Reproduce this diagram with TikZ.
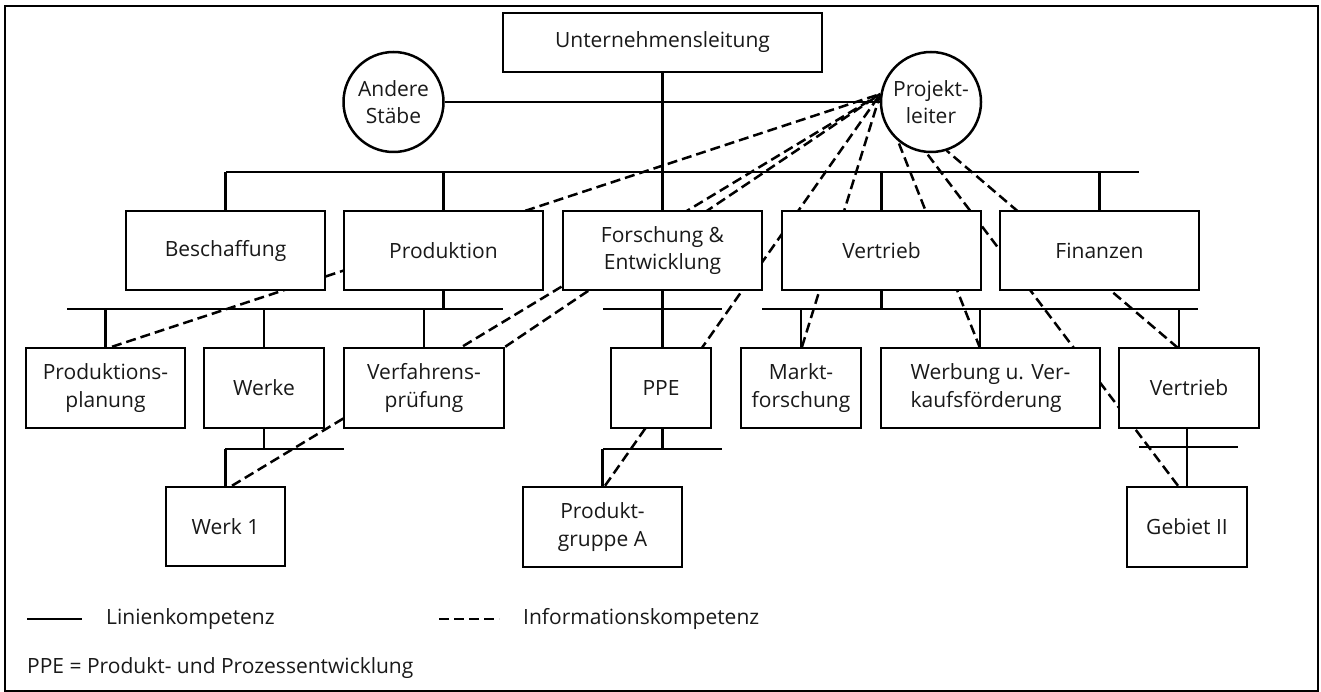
\documentclass[tikz,border=0pt]{standalone}
\usepackage{fontspec}
\setmainfont{Open Sans}
\usetikzlibrary{calc}
\pgfdeclarelayer{background}
\pgfsetlayers{background,main}
\begin{document}
\begin{tikzpicture}[x=1pt,y=-1pt,
  txt/.style={font=\fontsize{21}{27.5}\selectfont, text=black!90},
  box/.style={txt, draw, line width=2.5pt, fill=white, inner sep=0pt, align=center},
  circ/.style={txt, draw, circle, line width=2.5pt, fill=white, inner sep=0pt, minimum size=100pt, align=center},
  ln/.style={line width=2.5pt},
  info/.style={line width=2.5pt, dash pattern=on 10pt off 5pt},
  legtext/.style={txt, anchor=west, inner sep=0pt},
]
\useasboundingbox (0,0) rectangle (1321,692);
\draw[line width=2.2pt] (5,6) rectangle (1318,691);

% nodes
\node[box, minimum width=319pt, minimum height=59pt] (ul) at (662.5,42.5) {Unternehmensleitung};
\node[circ] (andere) at (393.5,102) {Andere\\Stäbe};
\node[circ] (pl) at (931,102) {Projekt-\\leiter};

\node[box, minimum width=199pt, minimum height=79pt] (besch) at (225.5,250.5) {Beschaffung};
\node[box, minimum width=199pt, minimum height=79pt] (prod) at (443.5,250.5) {Produktion};
\node[box, minimum width=199pt, minimum height=79pt] (fe) at (662.5,250.5) {Forschung \&\\Entwicklung};
\node[box, minimum width=199pt, minimum height=79pt] (vert) at (881.5,250.5) {Vertrieb};
\node[box, minimum width=199pt, minimum height=79pt] (fin) at (1099.5,250.5) {Finanzen};

\node[box, minimum width=159pt, minimum height=80pt] (pplan) at (105.5,388) {Produktions-\\planung};
\node[box, minimum width=120pt, minimum height=80pt] (werke) at (264,388) {Werke};
\node[box, minimum width=160pt, minimum height=80pt] (verf) at (424,388) {Verfahrens-\\prüfung};
\node[box, minimum width=100pt, minimum height=80pt] (ppe) at (661,388) {PPE};
\node[box, minimum width=120pt, minimum height=80pt] (markt) at (801,388) {Markt-\\forschung};
\node[box, minimum width=219pt, minimum height=80pt, align=left] (werb) at (990.5,388) {Werbung u. Ver-\\kaufsförderung};
\node[box, minimum width=140pt, minimum height=80pt] (vt2) at (1189,388) {Vertrieb};

\node[box, minimum width=119pt, minimum height=79pt] (werk1) at (225.5,526.5) {Werk 1};
\node[box, minimum width=159pt, minimum height=80pt] (prodA) at (602.5,527) {Produkt-\\gruppe A};
\node[box, minimum width=120pt, minimum height=80pt] (geb) at (1187,527) {Gebiet II};

% coordinates of the buses
\coordinate (tbL) at (226,172);
\coordinate (tbR) at (1139,172);
\coordinate (lbL) at (67,309);
\coordinate (lbR) at (503,309);
\coordinate (feL) at (603,309);
\coordinate (feR) at (722,309);
\coordinate (vbL) at (762,309);
\coordinate (vbR) at (1198,309);
\coordinate (werbdrop) at (980,348);
\coordinate (vt2drop) at (1179,348);
\coordinate (wbL) at (225,449);
\coordinate (wbR) at (344,449);
\coordinate (pbL) at (603,449);
\coordinate (pbR) at (722,449);
\coordinate (gbL) at (1139,447);
\coordinate (gbR) at (1238,447);
\coordinate (pp) at (pl.171);

\begin{pgfonlayer}{background}
% information lines (behind boxes)
\draw[info] ($(pplan.north)+(6.5,0)$) -- (pp);
\draw[info] ($(werk1.north)+(6.5,0)$) -- (pp);
\draw[info] (verf.north east) -- (pp);
\draw[info] ($(prodA.north)+(2.5,0)$) -- (pp);
\draw[info] ($(markt.north)+(1,0)$) -- (pp);
\draw[info] (werbdrop) -- (pl.230);
\draw[info] ($(vt2drop)+(-1,0)$) -- (pl.288);
\draw[info] ($(geb.north)+(-9,0)$) -- (pl.265);

% line competence
\draw[ln] (ul.south) -- (fe.north);
\draw[ln] (andere.east) -- (pl.west);
\draw[ln] (tbL) -- (tbR);
\draw[ln] (besch.north) -- (besch.north |- tbL);
\draw[ln] (prod.north) -- (prod.north |- tbL);
\draw[ln] (vert.north) -- (vert.north |- tbL);
\draw[ln] (fin.north) -- (fin.north |- tbL);

\draw[ln] (lbL) -- (lbR);
\draw[ln] (prod.south) -- (prod.south |- lbL);
\draw[ln] (pplan.north) -- (pplan.north |- lbL);
\draw[ln] (werke.north) -- (werke.north |- lbL);
\draw[ln] (verf.north) -- (verf.north |- lbL);

\draw[ln] (feL) -- (feR);
\draw[ln] (fe.south) -- (fe.south |- ppe.north);

\draw[ln] (vbL) -- (vbR);
\draw[ln] (vert.south) -- (vert.south |- vbL);
\draw[ln] (markt.north) -- (markt.north |- vbL);
\draw[ln] (werbdrop) -- (werbdrop |- vbL);
\draw[ln] (vt2drop) -- (vt2drop |- vbL);

\draw[ln] (werke.south) -- (werke.south |- wbL);
\draw[ln] (wbL) -- (wbR);
\draw[ln] (werk1.north) -- (werk1.north |- wbL);

\draw[ln] (fe.south |- ppe.south) -- (fe.south |- pbL);
\draw[ln] (pbL) -- (pbR);
\draw[ln] (prodA.north) -- (prodA.north |- pbL);

\draw[ln] (geb.north) -- (geb.north |- vt2.south);
\draw[ln] (gbL) -- (gbR);
\end{pgfonlayer}

% legend
\coordinate (s1) at (27,619);
\coordinate (s2) at (82,619);
\draw[ln] (s1) -- (s2);
\node[legtext] (lk) at (106,619) {Linienkompetenz};
\coordinate (d1) at (439,619);
\coordinate (d2) at (499,619);
\draw[info] (d1) -- (d2);
\node[legtext] (ik) at (523,619) {Informationskompetenz};
\node[legtext] (ppedef) at (27,668) {PPE = Produkt- und Prozessentwicklung};
\end{tikzpicture}
\end{document}
